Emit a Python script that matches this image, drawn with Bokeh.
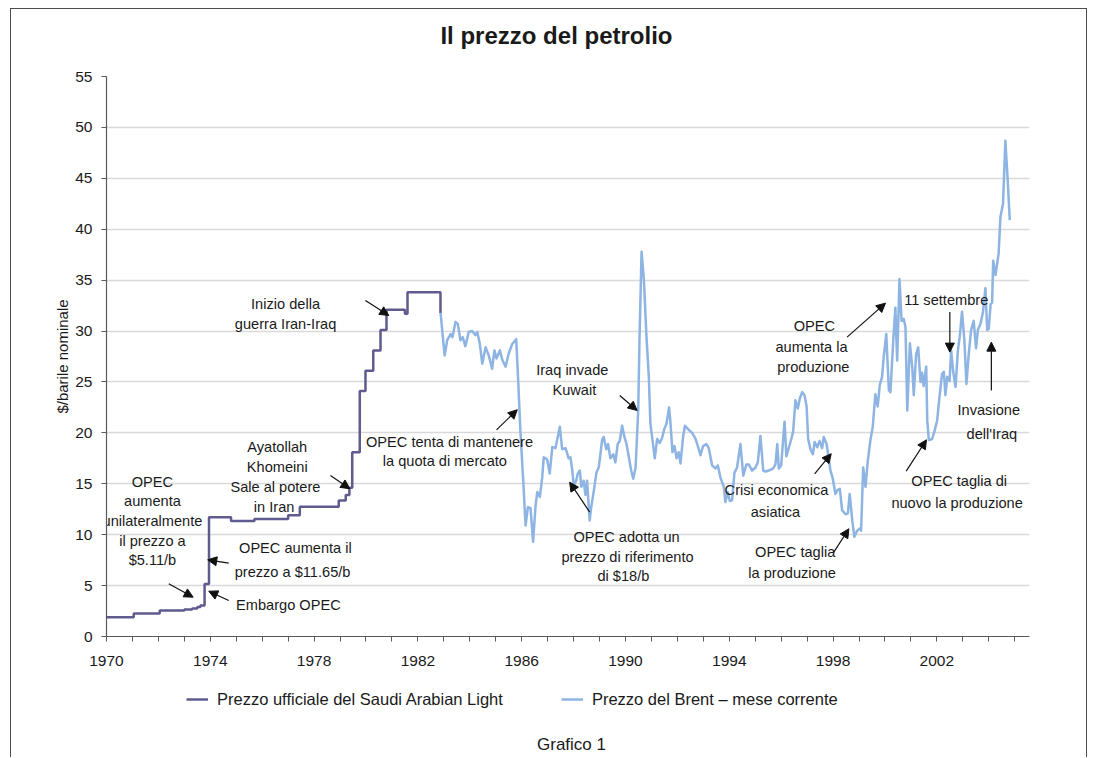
from bokeh.plotting import figure
from bokeh.layouts import column
from bokeh.models import (ColumnDataSource, FixedTicker, Arrow, NormalHead,
                          Legend, LegendItem, Range1d, Label)
from bokeh.core.properties import value
from bokeh.embed import file_html
from bokeh.resources import INLINE

# ---------------- data ----------------
TITLE = "Il prezzo del petrolio"
Y_LABEL = "$/barile nominale"
CAPTION = "Grafico 1"
SERIES = ["Prezzo ufficiale del Saudi Arabian Light", "Prezzo del Brent \u2013 mese corrente"]

X_TICKS = list(range(1970, 2006))
X_LABELS = ["1970", "1974", "1978", "1982", "1986", "1990", "1994", "1998", "2002"]
Y_TICKS = [0, 5, 10, 15, 20, 25, 30, 35, 40, 45, 50, 55]

# Saudi Arabian Light official price (step changes)
SAUDI_YEAR = [1970.0, 1971.05, 1972.05, 1973.0, 1973.3, 1973.5, 1973.62, 1973.78, 1973.95,
              1974.8, 1975.7, 1977.0, 1977.45, 1978.95, 1979.22, 1979.36, 1979.47, 1979.76,
              1979.98, 1980.28, 1980.56, 1980.79, 1981.5, 1981.6, 1982.87]
SAUDI_VAL = [1.9, 2.25, 2.55, 2.65, 2.75, 2.9, 3.05, 5.15, 11.7,
             11.35, 11.55, 11.9, 12.75, 13.35, 13.9, 14.6, 18.1, 24.1,
             26.1, 28.1, 30.1, 32.1, 31.7, 33.8, 31.8]

# Brent monthly price
BRENT_YEAR = [1982.87, 1983.03, 1983.13, 1983.26, 1983.33, 1983.45, 1983.54, 1983.64, 1983.73,
              1983.83, 1983.96, 1984.09, 1984.22, 1984.29, 1984.39, 1984.48, 1984.61, 1984.73,
              1984.86, 1984.95, 1985.03, 1985.16, 1985.25, 1985.38, 1985.50, 1985.63, 1985.79,
              1985.85, 1985.95, 1986.06, 1986.15, 1986.24, 1986.34, 1986.44, 1986.53, 1986.60,
              1986.70, 1986.79, 1986.85, 1986.98, 1987.08, 1987.18, 1987.30, 1987.39, 1987.47,
              1987.56, 1987.69, 1987.81, 1987.88, 1987.95, 1988.01, 1988.10, 1988.16, 1988.24,
              1988.30, 1988.39, 1988.46, 1988.52, 1988.62, 1988.68, 1988.78, 1988.88, 1988.97,
              1989.10, 1989.16, 1989.26, 1989.33, 1989.42, 1989.53, 1989.61, 1989.70, 1989.78,
              1989.87, 1989.96, 1990.04, 1990.13, 1990.22, 1990.30, 1990.39, 1990.49, 1990.54,
              1990.62, 1990.71, 1990.81, 1990.90, 1990.96, 1991.13, 1991.22, 1991.32, 1991.41,
              1991.50, 1991.58, 1991.68, 1991.73, 1991.81, 1991.89, 1991.97, 1992.05, 1992.12,
              1992.22, 1992.29, 1992.44, 1992.57, 1992.70, 1992.79, 1992.89, 1992.99, 1993.12,
              1993.21, 1993.34, 1993.47, 1993.56, 1993.66, 1993.79, 1993.85, 1993.94, 1994.02,
              1994.11, 1994.20, 1994.30, 1994.43, 1994.54, 1994.66, 1994.75, 1994.88, 1995.01,
              1995.10, 1995.20, 1995.31, 1995.39, 1995.52, 1995.69, 1995.78, 1995.85, 1995.91,
              1996.00, 1996.13, 1996.20, 1996.29, 1996.39, 1996.46, 1996.55, 1996.64, 1996.72,
              1996.81, 1996.90, 1996.98, 1997.04, 1997.13, 1997.22, 1997.29, 1997.39, 1997.48,
              1997.58, 1997.64, 1997.75, 1997.81, 1997.90, 1997.99, 1998.09, 1998.18, 1998.26,
              1998.35, 1998.48, 1998.57, 1998.64, 1998.74, 1998.82, 1998.93, 1999.03, 1999.08,
              1999.16, 1999.25, 1999.34, 1999.44, 1999.53, 1999.63, 1999.72, 1999.80, 1999.89,
              1999.95, 2000.05, 2000.15, 2000.21, 2000.32, 2000.40, 2000.47, 2000.56, 2000.64,
              2000.72, 2000.79, 2000.86, 2000.96, 2001.05, 2001.11, 2001.20, 2001.28, 2001.37,
              2001.43, 2001.49, 2001.59, 2001.63, 2001.69, 2001.82, 2001.91, 2002.01, 2002.10,
              2002.20, 2002.27, 2002.33, 2002.40, 2002.49, 2002.55, 2002.63, 2002.72, 2002.81,
              2002.88, 2002.97, 2003.06, 2003.14, 2003.23, 2003.32, 2003.42, 2003.51, 2003.58,
              2003.68, 2003.78, 2003.87, 2003.94, 2004.00, 2004.07, 2004.13, 2004.17, 2004.26,
              2004.38, 2004.45, 2004.55, 2004.64, 2004.73, 2004.81]
BRENT_VAL = [31.9, 27.6, 29.1, 29.7, 29.4, 30.9, 30.7, 29.1, 29.4,
             28.5, 29.9, 30.0, 29.6, 29.9, 28.7, 26.8, 28.4, 27.6,
             26.3, 28.1, 27.3, 28.1, 27.2, 26.5, 27.8, 28.7, 29.2,
             26.0, 20.2, 15.3, 10.9, 12.7, 12.6, 9.3, 12.7, 14.2,
             13.7, 15.6, 17.6, 17.4, 16.0, 18.6, 18.5, 19.6, 20.6,
             18.4, 18.5, 17.5, 17.6, 16.3, 14.8, 15.3, 16.0, 16.3,
             14.7, 15.3, 13.9, 15.3, 11.4, 12.7, 14.3, 16.1, 16.6,
             19.3, 19.6, 18.4, 18.9, 17.5, 17.9, 17.1, 18.9, 19.2,
             20.7, 19.6, 18.9, 17.6, 16.3, 15.5, 16.6, 22.2, 29.1,
             37.8, 35.0, 29.4, 25.5, 20.9, 17.5, 19.4, 19.0, 19.5,
             20.4, 20.9, 22.5, 21.1, 18.1, 18.7, 17.5, 18.1, 17.0,
             19.6, 20.7, 20.3, 20.0, 19.4, 18.7, 17.8, 18.7, 18.9,
             18.5, 16.8, 16.5, 16.8, 15.6, 14.7, 13.2, 14.2, 13.3,
             13.4, 16.1, 16.6, 18.9, 15.8, 16.9, 16.9, 16.3, 16.6,
             17.1, 19.7, 16.3, 16.2, 16.3, 16.5, 16.9, 18.9, 16.5,
             16.8, 21.1, 17.7, 18.5, 19.4, 20.1, 23.2, 22.4, 23.4,
             24.0, 23.7, 22.6, 19.4, 18.4, 17.9, 19.1, 18.6, 19.2,
             18.5, 19.6, 18.9, 17.9, 16.3, 15.5, 14.0, 14.4, 14.5,
             12.4, 12.0, 12.1, 14.0, 11.4, 9.8, 10.4, 10.6, 10.4,
             16.6, 14.7, 17.3, 19.3, 20.6, 23.8, 22.6, 24.7, 25.5,
             27.4, 29.7, 24.2, 24.0, 29.1, 32.3, 27.1, 35.1, 31.0,
             31.2, 30.4, 22.2, 28.8, 26.5, 23.7, 27.7, 28.4, 25.0,
             25.9, 24.6, 26.5, 21.2, 19.3, 19.4, 20.2, 21.2, 23.5,
             25.8, 26.0, 23.7, 25.5, 25.1, 28.1, 26.0, 24.5, 28.1,
             29.4, 31.9, 29.1, 24.8, 27.8, 30.1, 31.0, 28.3, 30.1,
             30.7, 31.9, 34.2, 30.1, 30.2, 32.6, 32.8, 36.9, 35.5,
             37.6, 41.2, 42.5, 48.7, 44.8, 40.9]

# annotation texts (one entry per line): x (year), y ($), text
NOTE_X = [1971.77, 1971.77, 1971.77, 1971.77, 1971.77,
          1977.28, 1977.17, 1977.01,
          1976.58, 1976.58, 1976.51, 1976.46,
          1976.90, 1976.90,
          1983.22, 1983.04,
          1987.95, 1988.03,
          1990.04, 1990.08, 1989.92,
          1995.82, 1995.78,
          1996.54, 1996.42,
          1997.28, 1997.17, 1997.24,
          2002.36,
          2004.00, 2004.12,
          2002.86, 2002.78]
NOTE_Y = [15.18, 13.26, 11.33, 9.38, 7.47,
          8.74, 6.34, 3.05,
          18.60, 16.63, 14.64, 12.70,
          32.61, 30.72,
          19.09, 17.22,
          26.13, 24.17,
          9.75, 7.79, 5.99,
          14.34, 12.21,
          8.28, 6.22,
          30.45, 28.42, 26.45,
          33.01,
          22.27, 19.84,
          15.26, 13.13]
NOTE_TEXT = ["OPEC", "aumenta", "unilateralmente", "il prezzo a", "$5.11/b",
             "OPEC aumenta il", "prezzo a $11.65/b", "Embargo OPEC",
             "Ayatollah", "Khomeini", "Sale al potere", "in Iran",
             "Inizio della", "guerra Iran-Iraq",
             "OPEC tenta di mantenere", "la quota di mercato",
             "Iraq invade", "Kuwait",
             "OPEC adotta un", "prezzo di riferimento", "di $18/b",
             "Crisi economica", "asiatica",
             "OPEC taglia", "la produzione",
             "OPEC", "aumenta la", "produzione",
             "11 settembre",
             "Invasione", "dell'Iraq",
             "OPEC taglia di", "nuovo la produzione"]

# arrows: start -> end (head at end)
ARR_X0 = [1972.40, 1974.71, 1974.71, 1978.63, 1979.98, 1985.03, 1989.78, 1988.62,
          1997.29, 1998.03, 1998.54, 2002.50, 2004.10, 2000.82]
ARR_Y0 = [5.18, 7.20, 3.54, 15.82, 33.01, 20.30, 23.67, 12.21,
          15.98, 8.28, 29.40, 31.86, 24.17, 16.24]
ARR_X1 = [1973.34, 1973.90, 1973.94, 1979.38, 1980.88, 1985.83, 1990.45, 1987.85,
          1997.93, 1998.61, 2000.02, 2002.50, 2004.10, 2001.60]
ARR_Y1 = [3.86, 7.53, 4.45, 14.51, 31.53, 22.27, 22.20, 15.16,
          17.95, 10.58, 32.74, 27.93, 28.91, 19.32]

# ---------------- style ----------------
FONT = "Liberation Sans"
TXT = "#1a1a1a"
BORDER = "1px solid #4d4d4d"
SAUDI_COLOR = "#5f5b8f"
BRENT_COLOR = "#8db4e2"
X_START, X_END = 1970, 2005.57
GEOM = dict(frame_width=923, min_border_left=95, min_border_right=57,
            output_backend="svg", toolbar_location=None,
            background_fill_color="white", border_fill_color="white")


def strip(height):
    """A blank strip sharing the chart's horizontal geometry; y runs in px from its top."""
    s = figure(frame_height=height, x_range=Range1d(X_START, X_END), y_range=Range1d(height, 0),
               min_border_top=0, min_border_bottom=0,
               x_axis_location=None, y_axis_location=None, **GEOM)
    s.outline_line_color = None
    s.grid.visible = False
    return s


# ---------------- title strip ----------------
TOP_H = 57
t = strip(TOP_H)
t.add_layout(Label(x=1987.34, y=26, text=TITLE, text_align="center", text_baseline="middle",
                   text_font=FONT, text_font_size="24px", text_font_style="bold",
                   text_color=TXT))

# ---------------- main chart ----------------
p = figure(frame_height=560, x_range=Range1d(X_START, X_END), y_range=Range1d(0, 55),
           min_border_top=10, min_border_bottom=40, **GEOM)
p.outline_line_color = None

p.xaxis.ticker = FixedTicker(ticks=X_TICKS)
p.xaxis.major_label_overrides = {t_: (str(t_) if str(t_) in X_LABELS else "") for t_ in X_TICKS}
p.yaxis.ticker = FixedTicker(ticks=Y_TICKS)
for ax in (p.xaxis[0], p.yaxis[0]):
    ax.axis_line_color = "#5a5a5a"
    ax.axis_line_width = 1.2
    ax.major_tick_line_color = "#5a5a5a"
    ax.major_tick_out = 5
    ax.major_tick_in = 0
    ax.minor_tick_line_color = None
    ax.major_label_text_font = FONT
    ax.major_label_text_font_size = "15.5px"
    ax.major_label_text_color = TXT
p.xaxis.major_label_standoff = 14
p.yaxis.major_label_standoff = 9
p.yaxis.axis_label = Y_LABEL
p.yaxis.axis_label_text_font = FONT
p.yaxis.axis_label_text_font_size = "15px"
p.yaxis.axis_label_text_font_style = "normal"
p.yaxis.axis_label_text_color = TXT
p.yaxis.axis_label_standoff = 1

p.xgrid.visible = False
p.ygrid.grid_line_color = "#d9d9d9"
p.ygrid.grid_line_width = 1.5

p.line(BRENT_YEAR, BRENT_VAL, line_color=BRENT_COLOR, line_width=2.5, line_join="round")
p.step(SAUDI_YEAR, SAUDI_VAL, mode="after", line_color=SAUDI_COLOR, line_width=2.5)

notes = ColumnDataSource(dict(x=NOTE_X, y=NOTE_Y, text=NOTE_TEXT))
p.text(x="x", y="y", text="text", source=notes, text_align="center", text_baseline="middle",
       text_font=value(FONT), text_font_size="14.6px", text_color=TXT)

arr_src = ColumnDataSource(dict(x0=ARR_X0, y0=ARR_Y0, x1=ARR_X1, y1=ARR_Y1))
p.add_layout(Arrow(x_start="x0", y_start="y0", x_end="x1", y_end="y1", source=arr_src,
                   line_color="#111111", line_width=1.2,
                   end=NormalHead(size=9, fill_color="#111111", line_color="#111111")))

# ---------------- legend + caption strip ----------------
BOT_H = 81
q = strip(BOT_H)
# legend keys: same styles as the series, drawn outside the strip's visible range
saudi_key = q.line(x=[1900, 1901], y=[-50, -50], line_color=SAUDI_COLOR, line_width=2.5)
brent_key = q.line(x=[1900, 1901], y=[-50, -50], line_color=BRENT_COLOR, line_width=2.5)
legend = Legend(items=[LegendItem(label=SERIES[0], renderers=[saudi_key]),
                       LegendItem(label=SERIES[1], renderers=[brent_key])],
                orientation="horizontal", location=(80, 48),
                glyph_width=22, glyph_height=20, label_standoff=9, spacing=58,
                padding=0, margin=0, border_line_color=None, background_fill_alpha=0,
                label_text_font=FONT, label_text_font_size="16.5px", label_text_color=TXT)
q.add_layout(legend)
q.add_layout(Label(x=1987.92, y=68, text=CAPTION, text_align="center", text_baseline="middle",
                   text_font=FONT, text_font_size="17px", text_color=TXT))

layout = column(t, p, q, spacing=0,
                styles={"margin-left": "10px", "margin-top": "8px",
                        "border-left": BORDER, "border-top": BORDER, "border-right": BORDER})

open("out.html", "w").write(file_html(layout, INLINE))
